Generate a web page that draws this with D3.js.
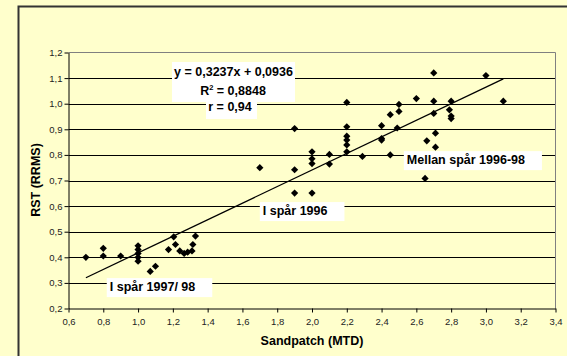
<!DOCTYPE html>
<html>
<head>
<meta charset="utf-8">
<script src="https://cdn.jsdelivr.net/npm/d3@7"></script>
<style>
  body { margin: 0; background: #ffffcc; }
  text { font-family: Arial, "Liberation Sans", sans-serif; }
</style>
</head>
<body>
<div id="chart"></div>
<script>
// Sandpatch (MTD) vs RST (RRMS)
const sandpatch = [
    0.70, 0.80, 0.80, 0.90, 1.00, 1.00, 1.00, 1.00, 1.00, 1.07, 1.10, 1.175, 1.205, 1.215, 1.24, 1.265, 1.285, 1.31, 1.315, 1.33,
    1.70, 1.90, 1.90, 1.90, 2.00, 2.00, 2.00, 2.00, 2.10, 2.10, 2.20, 2.20, 2.20, 2.20, 2.20, 2.20, 2.29,
    2.40, 2.40, 2.40, 2.45, 2.45, 2.49, 2.50, 2.50, 2.60, 2.65, 2.66, 2.70, 2.70, 2.70, 2.71, 2.71, 2.79, 2.80, 2.80, 2.80, 3.00, 3.10
];
const rst = [
    0.40, 0.435, 0.405, 0.405, 0.445, 0.43, 0.415, 0.40, 0.385, 0.345, 0.365, 0.43, 0.48, 0.45, 0.425, 0.415, 0.42, 0.425, 0.45, 0.483,
    0.75, 0.903, 0.742, 0.651, 0.812, 0.785, 0.766, 0.651, 0.802, 0.764, 1.005, 0.91, 0.873, 0.858, 0.839, 0.812, 0.794,
    0.914, 0.864, 0.858, 0.957, 0.80, 0.905, 0.997, 0.97, 1.02, 0.708, 0.855, 1.12, 1.01, 0.962, 0.885, 0.83, 0.976, 1.01, 0.952, 0.942, 1.11, 1.01
];

// trend line from the chart
const slope = 0.3237;
const intercept = 0.0936;

const xTicks = [0.6, 0.8, 1.0, 1.2, 1.4, 1.6, 1.8, 2.0, 2.2, 2.4, 2.6, 2.8, 3.0, 3.2, 3.4];
const yTicks = [0.2, 0.3, 0.4, 0.5, 0.6, 0.7, 0.8, 0.9, 1.0, 1.1, 1.2];

// label anchor = start of text / baseline, in data units
const labels = [
    {text: 'Mellan spår 1996-98', x: 2.528, y: 0.764},
    {text: 'I spår 1996', x: 1.70, y: 0.565},
    {text: 'I spår 1997/ 98', x: 0.82, y: 0.268}
];

const width = 567, height = 356;
const comma = d => d3.format('.1f')(d).replace('.', ',');

const svg = d3.select('#chart').append('svg')
    .attr('width', width)
    .attr('height', height);

// background + outer frame
svg.append('rect').attr('width', width).attr('height', height).attr('fill', '#ffffcc');
svg.append('path')
    .attr('d', `M18.5,${height + 2} L18.5,6.5 L${width + 2},6.5`)
    .attr('fill', 'none')
    .attr('stroke', '#333')
    .attr('stroke-width', 2);

const x = d3.scaleLinear().domain([0.6, 3.4]).range([68.5, 555.5]);
const y = d3.scaleLinear().domain([0.2, 1.2]).range([308.5, 52.5]);

// gridlines
svg.append('g')
    .selectAll('line')
    .data(yTicks.slice(1, -1))
    .enter()
    .append('line')
    .attr('x1', x(0.6)).attr('x2', x(3.4))
    .attr('y1', d => Math.round(y(d)) + 0.5)
    .attr('y2', d => Math.round(y(d)) + 0.5)
    .attr('stroke', '#000')
    .attr('stroke-width', 1);

// plot border (top and right)
svg.append('path')
    .attr('d', `M${x(0.6)},${y(1.2)} L${x(3.4)},${y(1.2)} L${x(3.4)},${y(0.2)}`)
    .attr('fill', 'none')
    .attr('stroke', '#808080')
    .attr('stroke-width', 1);

// axes
const xAxis = svg.append('g')
    .attr('transform', `translate(0,${y(0.2)})`)
    .call(d3.axisBottom(x).tickValues(xTicks).tickFormat(comma).tickSize(4).tickSizeOuter(0));
const yAxis = svg.append('g')
    .attr('transform', `translate(${x(0.6)},0)`)
    .call(d3.axisLeft(y).tickValues(yTicks).tickFormat(comma).tickSize(4).tickSizeOuter(0));

[xAxis, yAxis].forEach(a => {
    a.select('.domain').attr('stroke', '#000');
    a.selectAll('.tick line').attr('stroke', '#000');
    a.selectAll('.tick text')
        .attr('font-size', '9.5px')
        .attr('fill', '#222')
        .attr('font-family', 'Arial, "Liberation Sans", sans-serif');
});
xAxis.selectAll('.tick text').attr('dy', '0.95em');
yAxis.selectAll('.tick text').attr('x', -6);

// trend line
const xMin = d3.min(sandpatch), xMax = d3.max(sandpatch);
svg.append('line')
    .attr('x1', x(xMin)).attr('y1', y(slope * xMin + intercept))
    .attr('x2', x(xMax)).attr('y2', y(slope * xMax + intercept))
    .attr('stroke', '#000')
    .attr('stroke-width', 1.3);

// points
const diamond = d3.symbol().type(d3.symbolSquare).size(26);
svg.append('g')
    .selectAll('path')
    .data(sandpatch.map((d, i) => [d, rst[i]]))
    .enter()
    .append('path')
    .attr('d', diamond)
    .attr('transform', d => `translate(${x(d[0])},${y(d[1])}) rotate(45)`)
    .attr('fill', '#000');

// group labels (white boxes, extra room on the right like Excel)
labels.forEach(l => {
    const g = svg.append('g');
    const t = g.append('text')
        .attr('x', x(l.x) + 3)
        .attr('y', y(l.y))
        .attr('font-size', '12.5px')
        .attr('font-weight', 'bold')
        .attr('fill', '#000')
        .text(l.text);
    const w = t.node().getComputedTextLength();
    g.insert('rect', 'text')
        .attr('x', x(l.x)).attr('y', y(l.y) - 13)
        .attr('width', w + 20).attr('height', 19)
        .attr('fill', '#fff');
});

// regression box
const eq = svg.append('g');
eq.append('rect').attr('x', 172).attr('y', 62).attr('width', 123).attr('height', 40).attr('fill', '#fff');
eq.append('rect').attr('x', 206).attr('y', 98).attr('width', 51).attr('height', 21).attr('fill', '#fff');
const eqText = eq.append('text')
    .attr('text-anchor', 'middle')
    .attr('font-size', '12.5px')
    .attr('font-weight', 'bold')
    .attr('fill', '#000');
eqText.append('tspan').attr('x', 233.5).attr('y', 76)
    .text(`y = ${String(slope).replace('.', ',')}x + ${String(intercept).replace('.', ',')}`);
eqText.append('tspan').attr('x', 233).attr('y', 94.5).text('R');
eqText.append('tspan').attr('dy', -5).attr('font-size', '7.5px').text('2');
eqText.append('tspan').attr('dy', 5).text(' = 0,8848');
eqText.append('tspan').attr('x', 230).attr('y', 110.5).text('r = 0,94');

// axis titles
svg.append('text')
    .attr('x', 312).attr('y', 345)
    .attr('text-anchor', 'middle')
    .attr('font-size', '12.5px')
    .attr('font-weight', 'bold')
    .text('Sandpatch (MTD)');
svg.append('text')
    .attr('transform', `translate(40,180) rotate(-90)`)
    .attr('text-anchor', 'middle')
    .attr('font-size', '12.5px')
    .attr('font-weight', 'bold')
    .text('RST (RRMS)');
</script>
</body>
</html>
